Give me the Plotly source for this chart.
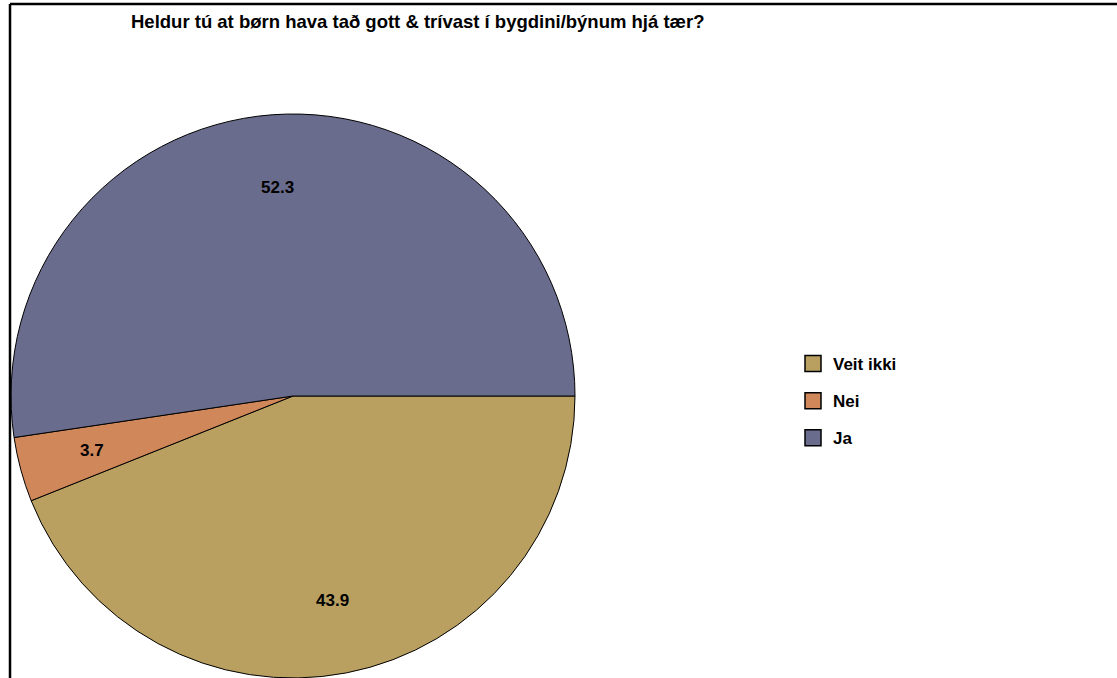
import math
import plotly.graph_objects as go

categories = ["Veit ikki", "Nei", "Ja"]
values = [43.9, 3.7, 52.3]
colors = ["#B9A060", "#D0875A", "#6A6C8D"]
title_text = "Heldur tú at børn hava tað gott & trívast í bygdini/býnum hjá tær?"

W, H = 1117, 678
ML, MR, MT, MB = 11, 0, 114, 0
PW = W - ML - MR
PH = H - MT - MB
FONT = "Liberation Sans"

fig = go.Figure()
fig.add_trace(go.Pie(
    labels=categories, values=values, sort=False,
    direction="clockwise", rotation=90,
    marker=dict(colors=colors, line=dict(color="black", width=1)),
    textinfo="none",
    domain=dict(x=[0, PH / PW], y=[0, 1]),
    showlegend=False, hoverinfo="label+value",
))
for c, col in zip(categories, colors):
    fig.add_trace(go.Scatter(
        x=[None], y=[None], mode="markers", name=c, legendgroup=c,
        marker=dict(symbol="square", size=22, color=col, line=dict(color="black", width=1.5)),
    ))

px2x = lambda px: (px - ML) / PW
py2y = lambda py: 1 - (py - MT) / PH

# value labels placed inside each slice, at ~0.74 of the radius along the slice's mid-angle
cx_px, cy_px, R = ML + PH / 2, MT + PH / 2, PH / 2
total = sum(values)
annotations = []
cum = 0
for v in values:
    mid = -(cum + v / 2) / total * 2 * math.pi
    cum += v
    lx = cx_px + 0.74 * R * math.cos(mid)
    ly = cy_px - 0.74 * R * math.sin(mid)
    annotations.append(dict(x=px2x(lx), y=py2y(ly), xref="paper", yref="paper",
                            xanchor="center", yanchor="middle",
                            text="<b>%.1f</b>" % v, showarrow=False,
                            font=dict(family=FONT, size=17, color="black")))

fig.update_layout(
    width=W, height=H,
    margin=dict(l=ML, r=MR, t=MT, b=MB),
    paper_bgcolor="white", plot_bgcolor="white",
    xaxis=dict(visible=False), yaxis=dict(visible=False),
    title=dict(text="<b>" + title_text + "</b>", xref="container", yref="container",
               x=131 / W, xanchor="left", y=1 - 22 / H, yanchor="middle",
               font=dict(family=FONT, size=18.5, color="black")),
    legend=dict(x=px2x(793), y=py2y(346), xanchor="left", yanchor="top",
                tracegroupgap=12, bgcolor="rgba(0,0,0,0)",
                font=dict(family=FONT, size=17, color="black", weight="bold")),
    annotations=annotations,
    shapes=[
        dict(type="line", xref="paper", yref="paper", x0=px2x(10), x1=px2x(1117),
             y0=py2y(4), y1=py2y(4), line=dict(color="black", width=2.5)),
        dict(type="line", xref="paper", yref="paper", x0=px2x(10), x1=px2x(10),
             y0=py2y(4), y1=py2y(678), line=dict(color="black", width=2.5)),
    ],
)
fig.write_html("out.html", config={"displayModeBar": False},
               post_script="document.body.style.margin='0';")
